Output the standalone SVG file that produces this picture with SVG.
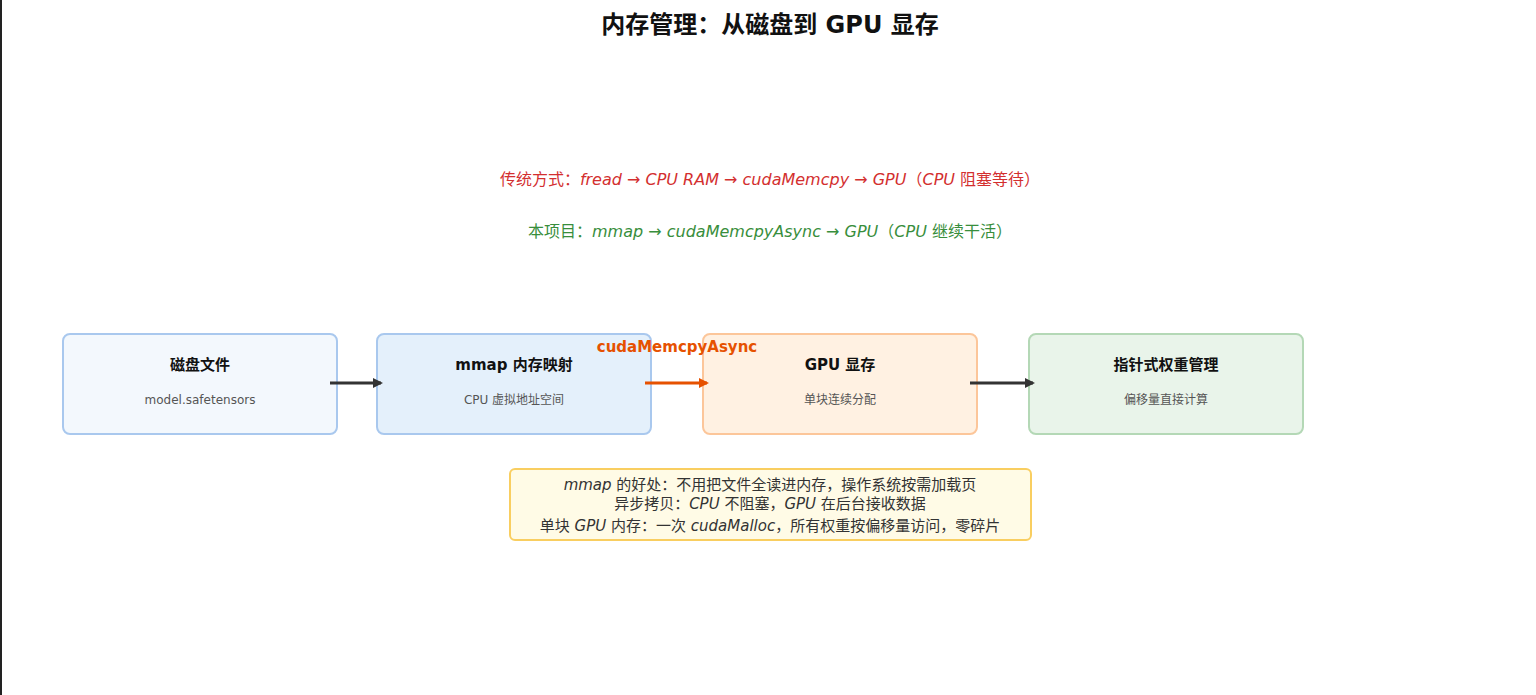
<svg xmlns="http://www.w3.org/2000/svg" width="1536" height="695" viewBox="0 0 1536 695">
<style>
text{font-family:"DejaVu Sans","Noto Sans CJK SC",sans-serif;text-anchor:middle}
.t{font-size:15px;font-weight:bold;fill:#111}
.s{font-size:12px;fill:#555}
.box{stroke-width:2}
.it{font-style:italic}
</style>
<defs>
<marker id="ak" markerWidth="10" markerHeight="10" refX="8" refY="5" orient="auto" markerUnits="userSpaceOnUse"><path d="M0,0 L10,5 L0,10 Z" fill="#333"/></marker>
<marker id="ao" markerWidth="10" markerHeight="10" refX="8" refY="5" orient="auto" markerUnits="userSpaceOnUse"><path d="M0,0 L10,5 L0,10 Z" fill="#e65100"/></marker>
</defs>
<rect width="1536" height="695" fill="#fff"/>
<line x1="1" y1="0" x2="1" y2="695" stroke="#222" stroke-width="2"/>
<text x="770" y="33" style="font-size:24px;font-weight:bold" fill="#111">内存管理：从磁盘到 GPU 显存</text>
<text x="770" y="185" style="font-size:16px" fill="#d32f2f">传统方式：<tspan class="it">fread → CPU RAM → cudaMemcpy → GPU</tspan>（<tspan class="it">CPU</tspan> 阻塞等待）</text>
<text x="770" y="237" style="font-size:16px" fill="#388e3c">本项目：<tspan class="it">mmap → cudaMemcpyAsync → GPU</tspan>（<tspan class="it">CPU</tspan> 继续干活）</text>
<g id="n1"><rect class="box" x="63" y="334" width="274" height="100" rx="7" fill="#f3f8fd" stroke="#a9c8ee"/><text class="t" x="200" y="370">磁盘文件</text><text class="s" x="200" y="404">model.safetensors</text></g>
<g id="n2"><rect class="box" x="377" y="334" width="274" height="100" rx="7" fill="#e4f0fb" stroke="#a9c8ee"/><text class="t" x="514" y="370">mmap 内存映射</text><text class="s" x="514" y="404">CPU 虚拟地址空间</text></g>
<g id="n3"><rect class="box" x="703" y="334" width="274" height="100" rx="7" fill="#fff1e2" stroke="#fcc69a"/><text class="t" x="840" y="370">GPU 显存</text><text class="s" x="840" y="404">单块连续分配</text></g>
<g id="n4"><rect class="box" x="1029" y="334" width="274" height="100" rx="7" fill="#e9f4ea" stroke="#b4d8b6"/><text class="t" x="1166" y="370">指针式权重管理</text><text class="s" x="1166" y="404">偏移量直接计算</text></g>
<g id="connectors">
<line x1="330" y1="383" x2="381" y2="383" stroke="#333" stroke-width="3" marker-end="url(#ak)"/>
<line x1="645" y1="383" x2="707" y2="383" stroke="#e65100" stroke-width="3" marker-end="url(#ao)"/>
<text x="677" y="352" style="font-size:15px;font-weight:bold" fill="#e65100">cudaMemcpyAsync</text>
<line x1="970" y1="383" x2="1033" y2="383" stroke="#333" stroke-width="3" marker-end="url(#ak)"/>
</g>
<g id="note"><rect x="510" y="469" width="521" height="71" rx="5" fill="#fffbe6" stroke="#f9ce60" stroke-width="2"/>
<text x="770" y="490" style="font-size:15px" fill="#333"><tspan class="it">mmap</tspan> 的好处：不用把文件全读进内存，操作系统按需加载页</text>
<text x="770" y="509" style="font-size:15px" fill="#333">异步拷贝：<tspan class="it">CPU</tspan> 不阻塞，<tspan class="it">GPU</tspan> 在后台接收数据</text>
<text x="770" y="531" style="font-size:15px" fill="#333">单块 <tspan class="it">GPU</tspan> 内存：一次 <tspan class="it">cudaMalloc</tspan>，所有权重按偏移量访问，零碎片</text></g>
</svg>
